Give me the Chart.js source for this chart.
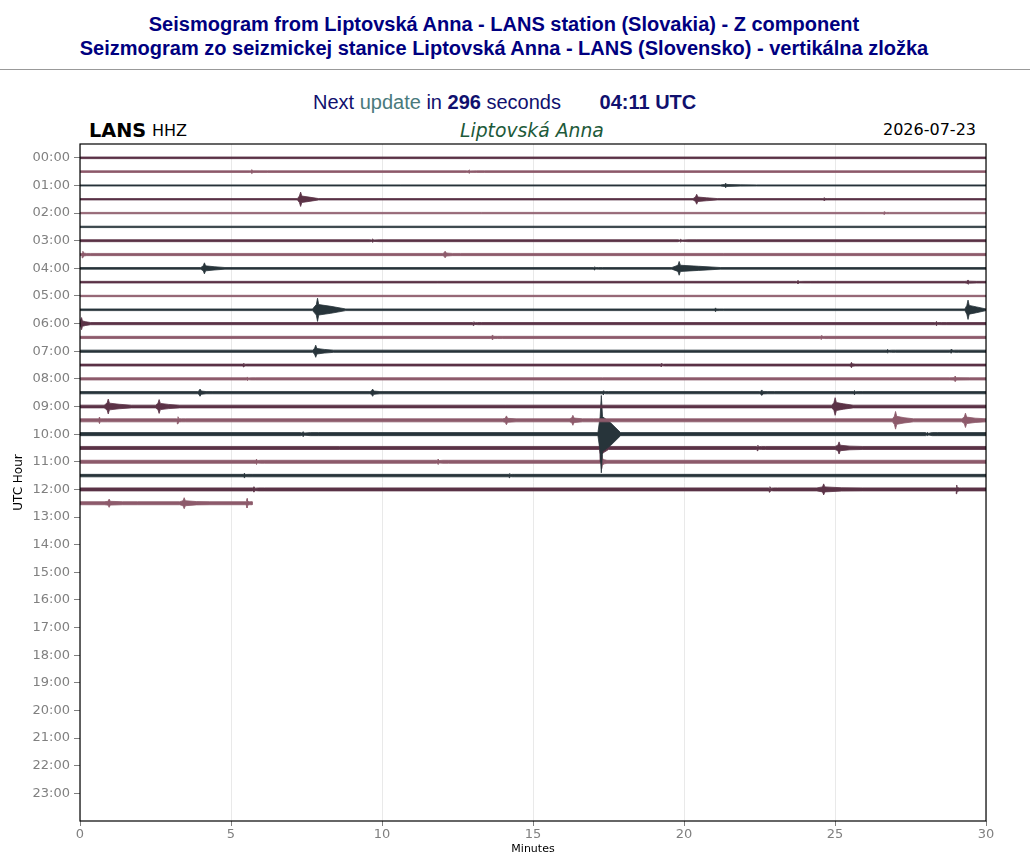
<!DOCTYPE html>
<html>
<head>
<meta charset="utf-8">
<script src="https://cdn.jsdelivr.net/npm/chart.js@4.4.1/dist/chart.umd.min.js"></script>
<style>
  body { margin: 0; background: #fff; width: 1030px; height: 858px; position: relative; overflow: hidden; }
  .head { position: absolute; top: 12px; left: 0; width: 1008px; text-align: center;
          font: bold 20px "Liberation Sans", Arial, sans-serif; line-height: 24px; color: #000080; }
  .rule { position: absolute; top: 69px; left: 0; width: 1030px; border-top: 1px solid #999; }
  .next { position: absolute; top: 91px; left: 313px; font: 20px "Liberation Sans", Arial, sans-serif; color: #10106e; white-space: nowrap; }
  .next .upd { color: #4a7a7c; }
  .next b { color: #10106e; }
  .next .time { margin-left: 33px; font-weight: bold; }
  .lbl { position: absolute; font-family: "DejaVu Sans", sans-serif; white-space: nowrap; }
  #wrap { position: absolute; left: 0; top: 115px; width: 1030px; height: 743px; }
</style>
</head>
<body>
<div class="head">Seismogram from Liptovská Anna - LANS station (Slovakia) - Z component<br>Seizmogram zo seizmickej stanice Liptovská Anna - LANS (Slovensko) - vertikálna zložka</div>
<div class="rule"></div>
<div class="next">Next <span class="upd">update</span> in <b>296</b> seconds <span class="time">04:11 UTC</span></div>
<div class="lbl" style="left:89px;top:119px;font-size:19.3px;font-weight:bold;color:#000;">LANS</div>
<div class="lbl" style="left:152px;top:121px;font-size:16px;color:#000;">HHZ</div>
<div class="lbl" style="left:460px;top:120px;font-size:18.8px;font-style:italic;color:#1d5a3a;">Liptovská Anna</div>
<div class="lbl" style="left:883px;top:120px;font-size:16px;color:#000;">2026-07-23</div>
<div id="wrap"><canvas id="heli"></canvas></div>
<script>
// hour labels on the left axis
const hourLabels = ["00:00","01:00","02:00","03:00","04:00","05:00","06:00","07:00","08:00","09:00","10:00","11:00",
  "12:00","13:00","14:00","15:00","16:00","17:00","18:00","19:00","20:00","21:00","22:00","23:00"];
const hourTicks = [0,1,2,3,4,5,6,7,8,9,10,11,12,13,14,15,16,17,18,19,20,21,22,23];
const minuteTicks = [0,5,10,15,20,25,30];

// one trace per half hour (hour value of the trace line)
const traceHours = [0,0.5,1,1.5,2,2.5,3,3.5,4,4.5,5,5.5,6,6.5,7,7.5,8,8.5,9,9.5,10,10.5,11,11.5,12,12.5];
// minutes recorded in each trace
const traceEnd = [30,30,30,30,30,30,30,30,30,30,30,30,30,30,30,30,30,30,30,30,30,30,30,30,30,5.7];
// background noise half-amplitude (hour units)
const traceNoise = [0.03,0.03,0.02,0.025,0.025,0.025,0.035,0.04,0.03,0.03,0.025,0.03,0.04,
  0.04,0.04,0.035,0.04,0.04,0.05,0.055,0.055,0.055,0.055,0.045,0.055,0.055];
// events per trace: [start minute, end minute, amplitude]
const traceEvents = [
  [],
  [[5.6,6.2,0.07],[12.8,13.4,0.06]],
  [[21.2,22.4,0.08]],
  [[7.2,7.9,0.26],[20.3,21.1,0.18],[24.6,24.9,0.06]],
  [[26.6,26.8,0.05]],
  [],
  [[9.6,10.2,0.06],[19.8,20.4,0.05]],
  [[0.05,0.35,0.12],[12.0,12.6,0.12]],
  [[4.0,4.8,0.2],[17.0,17.3,0.06],[19.6,21.2,0.25]],
  [[23.7,24.2,0.06],[29.3,30,0.08]],
  [],
  [[7.7,8.8,0.42],[21.0,21.3,0.07],[29.3,30,0.35]],
  [[0,0.35,0.22],[13.0,13.3,0.07],[28.3,28.7,0.08]],
  [[13.6,14.0,0.09],[24.5,24.8,0.07]],
  [[7.7,8.4,0.22],[26.7,27.0,0.07],[28.8,29.1,0.07]],
  [[5.4,5.6,0.07],[19.2,19.5,0.06],[25.5,25.8,0.1]],
  [[5.5,5.8,0.07],[28.8,30,0.1]],
  [[3.9,4.4,0.13],[9.6,10.2,0.13],[17.3,17.5,0.07],[22.5,23.0,0.1],[25.6,25.9,0.08]],
  [[0.8,1.7,0.27],[2.5,3.3,0.25],[24.9,25.6,0.32]],
  [[0.6,0.9,0.12],[3.2,3.5,0.13],[14.0,14.8,0.16],[16.2,17.0,0.18],[26.9,27.6,0.32],[29.2,30,0.26]],
  [[7.3,7.9,0.09],[17.15,17.9,1.4],[28.0,28.4,0.07]],
  [[17.2,17.5,0.5],[22.4,22.7,0.1],[25.0,25.9,0.22]],
  [[5.8,6.1,0.1],[11.8,12.2,0.1],[17.25,17.45,0.25]],
  [[5.4,5.7,0.09],[14.2,14.4,0.08]],
  [[5.7,6.1,0.1],[22.8,23.1,0.1],[24.4,25.9,0.2],[29.0,29.2,0.16]],
  [[0.8,1.9,0.15],[3.3,4.3,0.2],[5.5,5.7,0.17]]
];

const traceColors = ["#5b3246", "#8d5a6b", "#27343a"];

// envelope of one trace: top edge left to right (spike + decaying coda), bottom edge mirrored back
function envelope(i) {
  const b = traceHours[i], n = traceNoise[i], end = traceEnd[i];
  const top = [{ x: 0, y: b - n }];
  traceEvents[i].forEach(([s, e, a]) => {
    const e2 = Math.min(e, end);
    const w = e2 - s;
    const p = s + w * 0.15;
    const d = Math.min(0.04, w * 0.08);
    top.push(
      { x: s, y: b - n },
      { x: p - d, y: b - a * 0.45 },
      { x: p, y: b - a },
      { x: p + d, y: b - a * 0.45 },
      { x: s + w * 0.55, y: b - Math.max(n, a * 0.3) },
      { x: e2, y: b - n }
    );
  });
  top.push({ x: end, y: b - n });
  const bottom = top.slice().reverse().map(pt => ({ x: pt.x, y: b + (b - pt.y) }));
  return top.concat(bottom);
}

const datasets = traceHours.map((h, i) => ({
  data: envelope(i),
  showLine: true,
  borderColor: traceColors[i % 3],
  backgroundColor: traceColors[i % 3],
  borderWidth: 0.8,
  fill: "shape",
  pointRadius: 0,
  tension: 0
}));

const framePlugin = {
  id: "frame",
  afterDatasetsDraw(chart) {
    const { ctx, chartArea: a } = chart;
    ctx.save();
    ctx.strokeStyle = "#000";
    ctx.lineWidth = 1.2;
    ctx.strokeRect(a.left, a.top, a.right - a.left, a.bottom - a.top);
    ctx.restore();
  }
};

const tickFont = { family: "DejaVu Sans", size: 13 };

new Chart(document.getElementById("heli"), {
  type: "scatter",
  data: { datasets },
  options: {
    responsive: true,
    maintainAspectRatio: false,
    animation: false,
    layout: { padding: { top: 29, right: 44, left: 0, bottom: 0 } },
    plugins: { legend: { display: false }, tooltip: { enabled: false } },
    scales: {
      x: {
        type: "linear", min: 0, max: 30,
        afterBuildTicks: s => { s.ticks = minuteTicks.map(v => ({ value: v })); },
        afterFit: s => { s.height = 37; },
        ticks: { color: "#808080", font: tickFont, padding: 1, maxRotation: 0 },
        grid: { color: "#e9e9e9", tickColor: "#808080", tickLength: 5 },
        border: { display: false },
        title: { display: true, text: "Minutes", color: "#000", font: { family: "DejaVu Sans", size: 11 }, padding: { top: 0, bottom: 2 } }
      },
      y: {
        type: "linear", min: -0.5, max: 24, reverse: true,
        afterBuildTicks: s => { s.ticks = hourTicks.map(v => ({ value: v })); },
        afterFit: s => { s.width = 80; },
        ticks: { color: "#808080", font: tickFont, padding: 4, callback: (v, i) => hourLabels[i] },
        grid: { drawOnChartArea: false, tickColor: "#808080", tickLength: 6 },
        border: { display: false },
        title: { display: true, text: "UTC Hour", color: "#000", font: { family: "DejaVu Sans", size: 12 }, padding: { top: 12, bottom: 0 } }
      }
    }
  },
  plugins: [framePlugin]
});
</script>
</body>
</html>
